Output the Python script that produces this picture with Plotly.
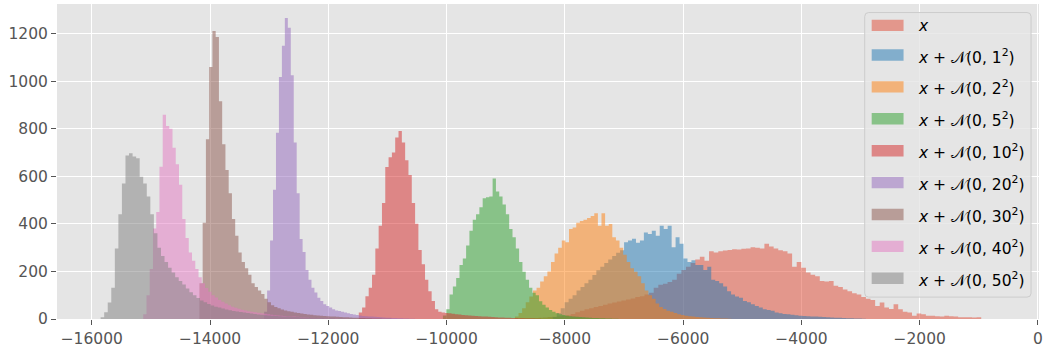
import plotly.graph_objects as go

# ---- histogram data: left edge of first bin, bin width, counts per bin ----
labels = [
    "<i>x</i>",
    "<i>x</i> + 𝒩(0, 1<sup>2</sup>)",
    "<i>x</i> + 𝒩(0, 2<sup>2</sup>)",
    "<i>x</i> + 𝒩(0, 5<sup>2</sup>)",
    "<i>x</i> + 𝒩(0, 10<sup>2</sup>)",
    "<i>x</i> + 𝒩(0, 20<sup>2</sup>)",
    "<i>x</i> + 𝒩(0, 30<sup>2</sup>)",
    "<i>x</i> + 𝒩(0, 40<sup>2</sup>)",
    "<i>x</i> + 𝒩(0, 50<sup>2</sup>)",
]
colors = ["#E24A33", "#1f77b4", "#ff7f0e", "#2ca02c", "#d62728",
          "#9467bd", "#8c564b", "#e377c2", "#7f7f7f"]

bin_start = [-8760, -8205, -8845, -10062, -11485, -13085, -14180, -15130, -15850]
bin_width = [78, 67, 61, 56, 56, 50, 55, 55, 60]

counts_x = [2, 3, 3, 4, 5, 6, 8, 9, 11, 13,
            16, 21, 28, 35, 41, 45, 50, 55, 60, 65,
            69, 74, 78, 82, 86, 92, 96, 103, 110, 131,
            144, 148, 155, 165, 190, 206, 220, 235, 250, 262,
            245, 285, 280, 285, 288, 290, 293, 292, 295, 296,
            302, 300, 296, 316, 305, 296, 289, 285, 275, 220,
            240, 215, 195, 186, 180, 160, 158, 160, 140, 135,
            124, 117, 108, 103, 92, 85, 80, 55, 69, 48,
            42, 62, 41, 30, 27, 14, 23, 20, 14, 14,
            12, 10, 14, 12, 10, 7, 7, 7, 6, 7]
counts_s1 = [8, 25, 45, 70, 85, 100, 120, 135, 150, 165,
             185, 205, 220, 235, 250, 265, 278, 289, 323, 330,
             337, 320, 330, 364, 357, 371, 350, 392, 378, 392,
             302, 344, 316, 254, 240, 247, 227, 227, 206, 220,
             165, 160, 150, 137, 117, 103, 95, 89, 76, 70,
             62, 55, 48, 41, 38, 35, 27, 24, 21, 20,
             18, 16, 14, 13, 12, 11, 10, 9, 8, 7,
             6, 5, 5, 4, 3, 3, 2, 2, 1]
counts_s2 = [10, 25, 45, 70, 95, 120, 131, 158, 180, 200,
             240, 275, 300, 330, 323, 378, 385, 405, 412, 417,
             425, 433, 444, 392, 444, 392, 399, 344, 330, 300,
             270, 240, 213, 199, 180, 150, 120, 100, 85, 65,
             50, 42, 35, 30, 25, 20, 17, 14, 12, 10,
             8, 7, 6, 5, 4, 3, 3, 2, 2, 1]
counts_s5 = [15, 41, 103, 137, 172, 227, 254, 309, 371, 417,
             440, 470, 508, 512, 515, 591, 536, 515, 481, 440,
             378, 344, 296, 240, 199, 165, 131, 110, 100, 75,
             60, 48, 38, 30, 24, 20, 17, 14, 12, 10,
             9, 8, 7, 6, 5, 4, 4, 3, 3, 2, 2, 1, 1]
counts_s10 = [27, 48, 96, 131, 186, 296, 392, 488, 639, 680,
              700, 763, 790, 742, 667, 605, 488, 400, 290, 230,
              165, 117, 76, 41, 30, 27, 25, 24, 22, 20,
              19, 17, 16, 15, 14, 13, 12, 11, 10, 9,
              8, 7, 6, 6, 5, 5, 4, 4, 3, 3, 2, 2, 2, 1, 1]
counts_s20 = [30, 120, 330, 543, 783, 1017, 1148, 1265, 1224, 1024,
              742, 529, 336, 282, 206, 165, 131, 111, 89, 76,
              62, 55, 48, 41, 36, 34, 30, 27, 24, 21,
              19, 17, 15, 13, 12, 11, 10, 9, 8, 7,
              6, 5, 5, 4, 4, 3, 3, 2, 2, 1, 1]
counts_s30 = [150, 405, 756, 1059, 1210, 1185, 915, 735, 626, 529,
              420, 350, 280, 240, 213, 186, 150, 135, 120, 105,
              85, 70, 58, 50, 45, 40, 36, 33, 30, 27,
              25, 23, 21, 19, 18, 16, 15, 14, 13, 12,
              11, 10, 9, 8, 7, 7, 6, 5, 5, 4, 4, 3, 3, 2, 2, 2, 1, 1, 1]
counts_s40 = [20, 100, 210, 380, 450, 640, 859, 811, 800, 720,
              650, 564, 420, 340, 280, 245, 210, 175, 150, 130,
              115, 100, 90, 80, 72, 65, 58, 52, 47, 43,
              39, 36, 33, 30, 28, 26, 24, 22, 20, 18,
              16, 15, 14, 13, 12, 11, 10, 9, 8, 7,
              6, 5, 5, 4, 4, 3, 3, 2, 2, 2, 1, 1, 1]
counts_s50 = [7, 28, 69, 131, 296, 440, 570, 687, 697, 683,
              676, 598, 570, 515, 440, 360, 300, 265, 240, 215,
              195, 175, 160, 145, 128, 112, 100, 88, 78, 70,
              63, 57, 52, 48, 44, 40, 37, 34, 31, 29,
              27, 25, 23, 21, 19, 18, 16, 15, 14, 13,
              12, 11, 10, 9, 8, 8, 7, 6, 6, 5,
              5, 4, 4, 3, 3, 3, 2, 2, 2, 1, 1, 1]

all_counts = [counts_x, counts_s1, counts_s2, counts_s5, counts_s10,
              counts_s20, counts_s30, counts_s40, counts_s50]

x_ticks = [-16000, -14000, -12000, -10000, -8000, -6000, -4000, -2000, 0]
y_ticks = [0, 200, 400, 600, 800, 1000, 1200]

FONT = "DejaVu Sans"
FS = 15.5
W, H = 1047, 352
L, R, T, B = 57, 1043, 4, 325


def rgba(hex_color, a):
    h = hex_color.lstrip("#")
    r, g, b = (int(h[i:i + 2], 16) for i in (0, 2, 4))
    return f"rgba({r},{g},{b},{a})"


fig = go.Figure()
# each histogram drawn as a filled step outline over its bin edges
for counts, start, w, col in zip(all_counts, bin_start, bin_width, colors):
    edges = [start + i * w for i in range(len(counts) + 1)]
    heights = [0] + list(counts) + [counts[-1], 0]
    xs = [edges[0]] + edges + [edges[-1]]
    fig.add_trace(go.Scatter(
        x=xs, y=heights, mode="lines", line=dict(shape="hv", width=0),
        fill="toself", fillcolor=rgba(col, 0.5),
        showlegend=False, hoverinfo="skip",
    ))


def fx(p):
    return (p - L) / (R - L)


def fy(p):
    return (B - p) / (B - T)


# legend frame (rounded box)
x0, x1, y0, y1, r = 868, 1035, 12.7, 302.7, 4
rx, ry = r / (R - L), r / (B - T)
X0, X1, Y0, Y1 = fx(x0), fx(x1), fy(y1), fy(y0)
path = (f"M {X0+rx},{Y0} L {X1-rx},{Y0} Q {X1},{Y0} {X1},{Y0+ry} "
        f"L {X1},{Y1-ry} Q {X1},{Y1} {X1-rx},{Y1} "
        f"L {X0+rx},{Y1} Q {X0},{Y1} {X0},{Y1-ry} "
        f"L {X0},{Y0+ry} Q {X0},{Y0} {X0+rx},{Y0} Z")
shapes = [dict(type="path", path=path, xref="paper", yref="paper",
               fillcolor="rgba(229,229,229,0.8)",
               line=dict(color="#CCCCCC", width=1), layer="above")]
annotations = []
row_y = [25.8, 56, 88.5, 121, 153.5, 186, 218.5, 251, 283.5]
for lab, col, yc in zip(labels, colors, row_y):
    shapes.append(dict(type="rect", xref="paper", yref="paper",
                       x0=fx(875), x1=fx(907), y0=fy(yc + 5.8), y1=fy(yc - 5.8),
                       fillcolor=rgba(col, 0.5), line=dict(width=0), layer="above"))
    annotations.append(dict(xref="paper", yref="paper", x=fx(919), y=fy(yc + 1),
                            xanchor="left", yanchor="middle", showarrow=False,
                            text=lab, font=dict(family=FONT, size=FS, color="#000000")))

axis_common = dict(
    showgrid=True, gridcolor="white", gridwidth=1.3, zeroline=False,
    showline=False, ticks="outside", ticklen=5, tickwidth=1, tickcolor="#555555",
    tickfont=dict(family=FONT, size=FS, color="#555555"),
)
fig.update_xaxes(range=[-16588, 17], tickvals=x_ticks,
                 ticktext=[f"{v:d}".replace("-", "\u2212") for v in x_ticks], **axis_common)
fig.update_yaxes(range=[0, 1324], tickvals=y_ticks, **axis_common)

fig.update_layout(
    width=W, height=H,
    margin=dict(l=L, r=W - R, t=T, b=H - B, pad=0),
    plot_bgcolor="#E5E5E5", paper_bgcolor="white",
    shapes=shapes, annotations=annotations,
    font=dict(family=FONT),
)

fig.write_html("out.html")
